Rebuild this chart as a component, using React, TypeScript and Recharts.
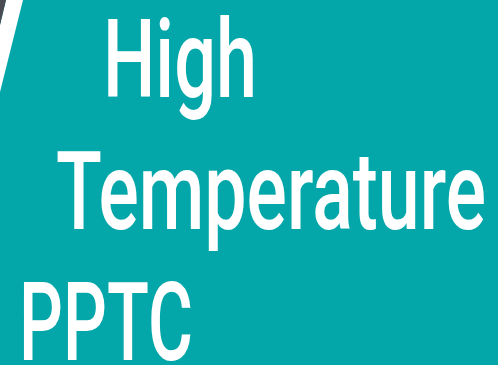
import React from 'react';
import { ComposedChart, Customized } from 'recharts';

// banner text, one entry per line
const titleLines = ['High', 'Temperature', 'PPTC'];
const lineX = [103, 56, 19];
const lineBaseline = [97, 229, 360];
const lineWidth = [154, 430, 174];

const TEAL = '#04A7A9';
const SLATE = '#4A4A52';

const Banner = () => (
  <g>
    <rect x={0} y={0} width={498} height={365} fill={TEAL} />
    <polygon points="6,0 23,0 0,92 0,25" fill="#ffffff" />
    <polygon points="0,0 6,0 0,25" fill={SLATE} />
    {titleLines.map((line, i) => (
      <text
        key={line}
        x={lineX[i]}
        y={lineBaseline[i]}
        fill="#ffffff"
        fontFamily="Roboto, sans-serif"
        fontWeight={500}
        fontSize={110}
        textLength={lineWidth[i]}
        lengthAdjust="spacingAndGlyphs"
      >
        {line}
      </text>
    ))}
  </g>
);

export default function App() {
  return (
    <div style={{ position: 'fixed', left: 0, top: 0 }}>
      <ComposedChart width={498} height={365} data={[]} margin={{ top: 0, right: 0, bottom: 0, left: 0 }}>
        <Customized component={Banner} />
      </ComposedChart>
    </div>
  );
}
